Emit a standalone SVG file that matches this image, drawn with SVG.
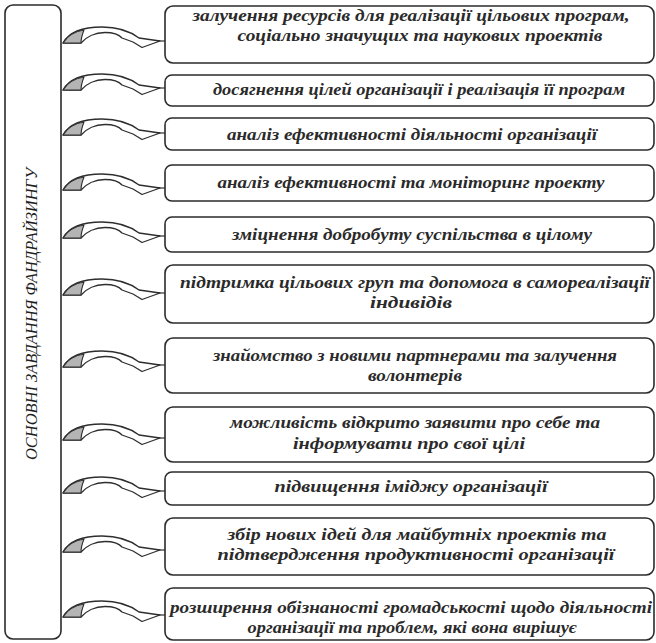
<svg xmlns="http://www.w3.org/2000/svg" xmlns:xlink="http://www.w3.org/1999/xlink" width="656" height="643" viewBox="0 0 656 643">
  <style>
    .frame { fill: #ffffff; stroke: #2b2b2b; stroke-width: 1.6; }
    .label { font-family: "Liberation Serif", "Times New Roman", "DejaVu Serif", serif; font-style: italic; font-weight: bold; font-size: 16.5px; fill: #2a2a2a; text-anchor: middle; }
    .title { font-family: "Liberation Serif", "Times New Roman", "DejaVu Serif", serif; font-style: italic; font-size: 17px; fill: #1e1e1e; text-anchor: middle; }
    .band { fill: #ffffff; stroke: #2e2e2e; stroke-width: 1.3; stroke-linejoin: round; }
    .fold { fill: #b4b4b4; stroke: #2e2e2e; stroke-width: 1.1; stroke-linejoin: round; }
    .tip { fill: none; stroke: #2e2e2e; stroke-width: 1.2; }
  </style>
  <defs>
    <!-- curved ribbon arrow, tail bottom at y = 43 -->
    <g id="curved-arrow">
      <path class="band" d="M63,43 C69,32 84,27 102,27 C119,27 131,32 139,38 L160,41 L142,47.5 L133,42 L122,38 C119,34.5 113,32.5 105,32.5 C95,32.5 86,37 81,43 Z"/>
      <path class="fold" d="M63,43 C67,36.5 74,31.5 84,30 C82,35 81,39 81,43 Z"/>
      <path class="tip" d="M158,41 L165,41"/>
    </g>
  </defs>

  <rect width="656" height="643" fill="#ffffff"/>

  <!-- title column -->
  <g id="title">
    <rect class="frame" x="5" y="5" width="56" height="634" rx="8"/>
    <text class="title" transform="translate(37,314) rotate(-90)" textLength="292" lengthAdjust="spacingAndGlyphs">ОСНОВНІ ЗАВДАННЯ ФАНДРАЙЗИНГУ</text>
  </g>

  <!-- connectors -->
  <g id="connectors">
    <use xlink:href="#curved-arrow" transform="translate(0,0)"/>
    <use xlink:href="#curved-arrow" transform="translate(0,47)"/>
    <use xlink:href="#curved-arrow" transform="translate(0,92)"/>
    <use xlink:href="#curved-arrow" transform="translate(0,147)"/>
    <use xlink:href="#curved-arrow" transform="translate(0,195)"/>
    <use xlink:href="#curved-arrow" transform="translate(0,252)"/>
    <use xlink:href="#curved-arrow" transform="translate(0,324)"/>
    <use xlink:href="#curved-arrow" transform="translate(0,397)"/>
    <use xlink:href="#curved-arrow" transform="translate(0,450)"/>
    <use xlink:href="#curved-arrow" transform="translate(0,509)"/>
    <use xlink:href="#curved-arrow" transform="translate(0,574)"/>
  </g>

  <!-- task boxes -->
  <g id="task-1">
    <rect class="frame" x="165" y="6" width="489" height="57" rx="8"/>
    <text class="label" x="411" y="20.5" textLength="437" lengthAdjust="spacingAndGlyphs">залучення ресурсів для реалізації цільових програм,</text>
    <text class="label" x="420" y="40.5" textLength="365" lengthAdjust="spacingAndGlyphs">соціально значущих та наукових проектів</text>
  </g>
  <g id="task-2">
    <rect class="frame" x="165" y="75" width="489" height="31" rx="7"/>
    <text class="label" x="419" y="95" textLength="412" lengthAdjust="spacingAndGlyphs">досягнення цілей організації і реалізація її програм</text>
  </g>
  <g id="task-3">
    <rect class="frame" x="165" y="118" width="489" height="32" rx="7"/>
    <text class="label" x="412" y="139.5" textLength="370" lengthAdjust="spacingAndGlyphs">аналіз ефективності діяльності організації</text>
  </g>
  <g id="task-4">
    <rect class="frame" x="165" y="165" width="489" height="36" rx="7"/>
    <text class="label" x="411" y="188" textLength="387" lengthAdjust="spacingAndGlyphs">аналіз ефективності та моніторинг проекту</text>
  </g>
  <g id="task-5">
    <rect class="frame" x="165" y="217" width="489" height="35" rx="7"/>
    <text class="label" x="412" y="239.5" textLength="360" lengthAdjust="spacingAndGlyphs">зміцнення добробуту суспільства в цілому</text>
  </g>
  <g id="task-6">
    <rect class="frame" x="165" y="265" width="489" height="58" rx="8"/>
    <text class="label" x="415" y="288" textLength="470" lengthAdjust="spacingAndGlyphs">підтримка цільових груп та допомога в самореалізації</text>
    <text class="label" x="411" y="308" textLength="82" lengthAdjust="spacingAndGlyphs">індивідів</text>
  </g>
  <g id="task-7">
    <rect class="frame" x="165" y="338" width="489" height="55" rx="8"/>
    <text class="label" x="415" y="361" textLength="404" lengthAdjust="spacingAndGlyphs">знайомство з новими партнерами та залучення</text>
    <text class="label" x="415" y="381" textLength="94" lengthAdjust="spacingAndGlyphs">волонтерів</text>
  </g>
  <g id="task-8">
    <rect class="frame" x="165" y="407" width="489" height="55" rx="8"/>
    <text class="label" x="415" y="428" textLength="370" lengthAdjust="spacingAndGlyphs">можливість відкрито заявити про себе та</text>
    <text class="label" x="409" y="449" textLength="232" lengthAdjust="spacingAndGlyphs">інформувати про свої цілі</text>
  </g>
  <g id="task-9">
    <rect class="frame" x="165" y="472" width="489" height="33" rx="7"/>
    <text class="label" x="411" y="492" textLength="273" lengthAdjust="spacingAndGlyphs">підвищення іміджу організації</text>
  </g>
  <g id="task-10">
    <rect class="frame" x="165" y="518" width="489" height="57" rx="8"/>
    <text class="label" x="417" y="539.5" textLength="379" lengthAdjust="spacingAndGlyphs">збір нових ідей для майбутніх проектів та</text>
    <text class="label" x="416" y="559.5" textLength="397" lengthAdjust="spacingAndGlyphs">підтвердження продуктивності організації</text>
  </g>
  <g id="task-11">
    <rect class="frame" x="165" y="588" width="489" height="52" rx="8"/>
    <text class="label" x="411" y="612.5" textLength="482" lengthAdjust="spacingAndGlyphs">розширення обізнаності громадськості щодо діяльності</text>
    <text class="label" x="412" y="632.5" textLength="329" lengthAdjust="spacingAndGlyphs">організації та проблем, які вона вирішує</text>
  </g>
</svg>
